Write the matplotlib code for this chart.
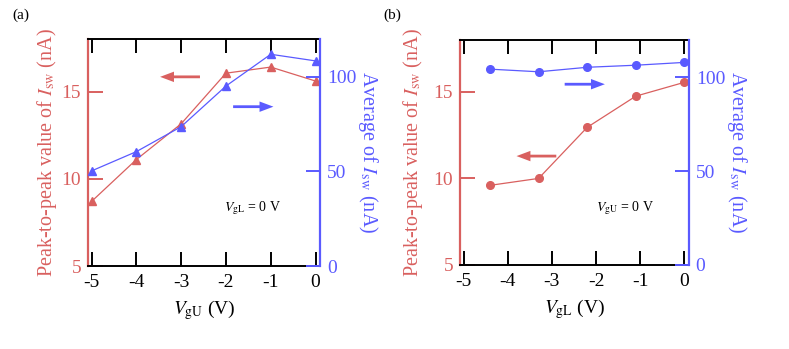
import matplotlib
matplotlib.use("Agg")
import matplotlib.pyplot as plt

plt.rcParams['font.family'] = 'serif'
plt.rcParams['font.serif'] = ['Liberation Serif', 'DejaVu Serif']
plt.rcParams['mathtext.fontset'] = 'stix'

# Panel (a): vs V_gU (V_gL = 0 V)
vgu = [-5, -4, -3, -2, -1, 0]
pp_a = [8.7, 11.1, 13.15, 16.05, 16.4, 15.6]
avg_a = [50.3, 60.5, 73.7, 95.2, 112.0, 108.5]

# Panel (b): vs V_gL (V_gU = 0 V)
vgl = [-4.4, -3.3, -2.2, -1.1, 0.0]
pp_b = [9.6, 10.0, 12.95, 14.75, 15.55]
avg_b = [104.4, 103.0, 105.4, 106.5, 108.0]

xticks = [-5, -4, -3, -2, -1, 0]
xticklabels = ['-5', '-4', '-3', '-2', '-1', '0']
lticks = [5, 10, 15]
rticks = [0, 50, 100]

RED = '#d9605f'
BLUE = '#5a5aff'
FS = 14

fig = plt.figure(figsize=(7.89, 3.49), dpi=100)

def panel(rect, x, pp, avg, marker, ms, xlabel, note, arrows, label, labpos, lpad):
    ax = fig.add_axes(rect)
    ax2 = ax.twinx()
    ax.plot(x, pp, color=RED, lw=0.9, marker=marker, ms=ms, mec=RED, mfc=RED, zorder=3)
    ax2.plot(x, avg, color=BLUE, lw=0.9, marker=marker, ms=ms, mec=BLUE, mfc=BLUE, zorder=3)
    ax.set_xlim(-5.08, 0.1)
    ax.set_ylim(5, 18)
    ax2.set_ylim(0, 120)
    ax.set_xticks(xticks)
    ax.set_xticklabels(xticklabels)
    ax.set_yticks(lticks)
    ax2.set_yticks(rticks)
    for s in ['top', 'bottom']:
        ax.spines[s].set_color('black')
        ax.spines[s].set_linewidth(1.4)
        ax2.spines[s].set_visible(False)
    ax.spines['left'].set_color(RED)
    ax.spines['left'].set_linewidth(1.6)
    ax.spines['right'].set_visible(False)
    ax2.spines['left'].set_visible(False)
    ax2.spines['right'].set_color(BLUE)
    ax2.spines['right'].set_linewidth(1.6)
    ax.tick_params(axis='x', direction='in', top=True, bottom=True, length=10, width=1.4,
                   color='black', labelsize=FS, pad=6)
    ax.tick_params(axis='y', direction='in', length=11, width=1.4, color=RED,
                   labelcolor=RED, labelsize=FS, pad=5)
    ax2.tick_params(axis='y', direction='in', length=10, width=1.4, color=BLUE,
                    labelcolor=BLUE, labelsize=FS, pad=5)
    ax.set_xlabel(xlabel, fontsize=FS, labelpad=5)
    ax.set_ylabel(r'Peak-to-peak value of $I_{\mathrm{sw}}$ (nA)', color=RED, fontsize=14.5,
                  labelpad=lpad)
    ax2.set_ylabel(r'Average of $I_{\mathrm{sw}}$ (nA)', color=BLUE, fontsize=14.5,
                   rotation=270, labelpad=17)
    ax.text(note[1], note[2], note[0], fontsize=10, va='center', ha='left')
    (r0, r1, ry), (b0, b1, by) = arrows
    for (x0, x1, yy, c) in [(r0, r1, ry, RED), (b0, b1, by, BLUE)]:
        ax.annotate('', xy=(x1, yy), xytext=(x0, yy),
                    arrowprops=dict(width=2.0, headwidth=7.5, headlength=10,
                                    facecolor=c, edgecolor=c, lw=0, shrink=0))
    ax2.set_zorder(ax.get_zorder() + 1)
    fig.text(labpos[0], labpos[1], label, fontsize=11, ha='left', va='center')
    return ax, ax2

panel([0.1115, 0.2378, 0.2941, 0.650], vgu, pp_a, avg_a, '^', 6,
      r'$V_{\mathrm{gU}}$ (V)', (r'$V_{\mathrm{gL}}$ = 0 V', -2.05, 8.3),
      ((-2.58, -3.47, 15.84), (-1.84, -0.94, 14.13)), '(a)', (0.016, 0.955), 2)

panel([0.583, 0.2407, 0.290, 0.645], vgl, pp_b, avg_b, 'o', 5.5,
      r'$V_{\mathrm{gL}}$ (V)', (r'$V_{\mathrm{gU}}$ = 0 V', -2.0, 8.3),
      ((-2.90, -3.80, 11.29), (-2.71, -1.80, 15.44)), '(b)', (0.486, 0.955), 6)

fig.savefig('out.png', dpi=100)
